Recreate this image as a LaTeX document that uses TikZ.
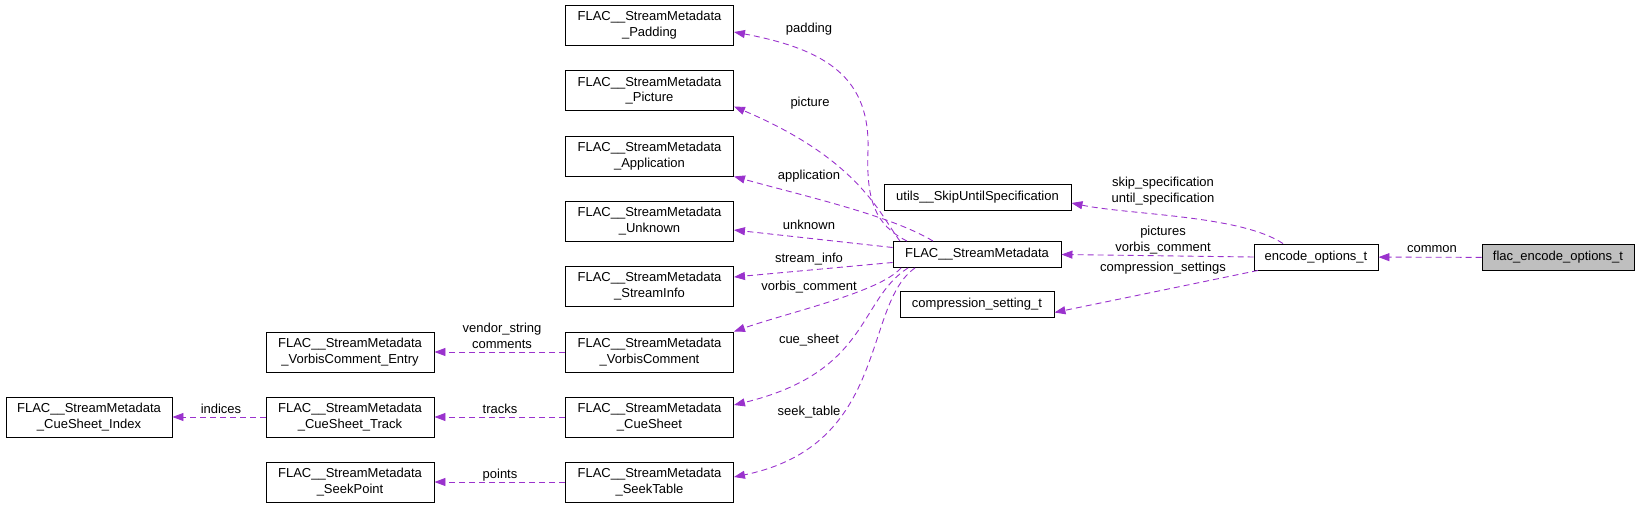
\documentclass[tikz,border=0pt]{standalone}
\usepackage{fontspec}
\setmainfont{Liberation Sans}
\usepackage{tikz}
\usetikzlibrary{
  arrows.meta,
  positioning,
  calc
}
\definecolor{roxo}{HTML}{9A32CD}
\definecolor{cinza}{HTML}{BFBFBF}

\begin{document}
\begin{tikzpicture}[
      x=1pt, y=-1pt,
      every node/.style={font=\fontsize{13}{15.5}\selectfont},
      caixa/.style={draw=black, line width=0.9pt, fill=white, minimum width=168pt, minimum height=40pt, inner sep=0pt, align=center},
      caixa1/.style={caixa, minimum height=26pt},
      foco/.style={caixa1, fill=cinza},
      seta/.style={-{Triangle[length=11pt, width=8pt]}, roxo, line width=0.9pt, dash pattern=on 6pt off 4pt},
      rotulo/.style={inner sep=0pt, align=center}
  ]
      \useasboundingbox (0,0) rectangle (1640,508);

      % Coluna das estruturas de metadados
      \node[caixa] (padding) at (649.5, 25) {FLAC\_\_StreamMetadata\\\_Padding};
      \node[caixa] (picture) at (649.5, 90.5) {FLAC\_\_StreamMetadata\\\_Picture};
      \node[caixa] (application) at (649.5, 156) {FLAC\_\_StreamMetadata\\\_Application};
      \node[caixa] (unknown) at (649.5, 221) {FLAC\_\_StreamMetadata\\\_Unknown};
      \node[caixa] (streaminfo) at (649.5, 286) {FLAC\_\_StreamMetadata\\\_StreamInfo};
      \node[caixa] (vorbis) at (649.5, 352) {FLAC\_\_StreamMetadata\\\_VorbisComment};
      \node[caixa] (cuesheet) at (649.5, 417) {FLAC\_\_StreamMetadata\\\_CueSheet};
      \node[caixa] (seektable) at (649.5, 482) {FLAC\_\_StreamMetadata\\\_SeekTable};

      % Estruturas internas
      \node[caixa] (entry) at (350, 352) {FLAC\_\_StreamMetadata\\\_VorbisComment\_Entry};
      \node[caixa] (track) at (350, 417) {FLAC\_\_StreamMetadata\\\_CueSheet\_Track};
      \node[caixa] (seekpoint) at (350, 482) {FLAC\_\_StreamMetadata\\\_SeekPoint};
      \node[caixa, minimum width=166pt] (index) at (89, 417) {FLAC\_\_StreamMetadata\\\_CueSheet\_Index};

      % Centro e lado direito
      \node[caixa1, minimum width=168pt] (smd) at (977, 254.5) {FLAC\_\_StreamMetadata};
      \node[caixa1, minimum width=187pt] (utils) at (977.5, 197) {utils\_\_SkipUntilSpecification};
      \node[caixa1, minimum width=154pt] (compr) at (977, 304.5) {compression\_setting\_t};
      \node[caixa1, minimum width=124pt] (enc) at (1316, 257) {encode\_options\_t};
      \node[foco, minimum width=152pt] (flac) at (1558, 257.5) {flac\_encode\_options\_t};

      % Setas de conexão
      \draw[seta] ([xshift=-70pt]smd.north) .. controls (875,225) and (866,200) .. (868,150)
                  .. controls (870,80) and (830,50) .. ([yshift=-7pt]padding.east);
      \draw[seta] ([xshift=-77pt]smd.north) .. controls (880,215) and (860,160) .. ([yshift=-16pt]picture.east);
      \draw[seta] ([xshift=-44pt]smd.north) .. controls (890,215) and (800,195) .. (application.south east);
      \draw[seta] ([yshift=7pt]smd.west) -- ([yshift=-9pt]unknown.east);
      \draw[seta] ([yshift=-8pt]smd.west) -- ([yshift=9pt]streaminfo.east);
      \draw[seta] ([xshift=-76pt]smd.south) .. controls (880,292) and (790,312) .. (vorbis.north east);
      \draw[seta] ([xshift=-69pt]smd.south) .. controls (858,300) and (870,372) .. ([yshift=12pt]cuesheet.east);
      \draw[seta] ([xshift=-62pt]smd.south) .. controls (862,305) and (890,445) .. ([yshift=5pt]seektable.east);

      \draw[seta] (vorbis) -- (entry);
      \draw[seta] (cuesheet) -- (track);
      \draw[seta] (track) -- (index);
      \draw[seta] (seektable) -- (seekpoint);

      \draw[seta] ([xshift=-33pt]enc.north) .. controls (1240,215) and (1130,215) .. ([yshift=-6pt]utils.east);
      \draw[seta] (enc.west) -- (smd.east);
      \draw[seta] ([xshift=-58pt]enc.south) -- ([yshift=-8pt]compr.east);
      \draw[seta] (flac) -- (enc);

      % Rótulos das setas
      \node[rotulo] (lpadding) at (809, 29) {padding};
      \node[rotulo] (lpicture) at (810, 103) {picture};
      \node[rotulo] (lapplication) at (809, 176) {application};
      \node[rotulo] (lunknown) at (809, 225) {unknown};
      \node[rotulo] (lstreaminfo) at (809, 259) {stream\_info};
      \node[rotulo] (lvorbis) at (809, 287) {vorbis\_comment};
      \node[rotulo] (lcuesheet) at (809, 340) {cue\_sheet};
      \node[rotulo] (lseektable) at (809, 412) {seek\_table};
      \node[rotulo] (lentry) at (502, 336) {vendor\_string\\comments};
      \node[rotulo] (ltrack) at (500, 409) {tracks};
      \node[rotulo] (lindex) at (221, 409) {indices};
      \node[rotulo] (lseekpoint) at (500, 475) {points};
      \node[rotulo] (lutils) at (1163, 191) {skip\_specification\\until\_specification};
      \node[rotulo] (lsmd) at (1163, 240) {pictures\\vorbis\_comment};
      \node[rotulo] (lcompr) at (1163, 268) {compression\_settings};
      \node[rotulo] (lenc) at (1432, 249) {common};

  \end{tikzpicture}
\end{document}
